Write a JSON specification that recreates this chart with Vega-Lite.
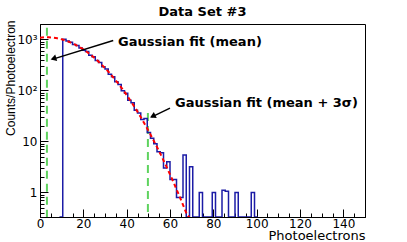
{
  "$schema": "https://vega.github.io/schema/vega-lite/v6.json",
  "width": 325,
  "height": 193,
  "autosize": {"type": "none"},
  "padding": {"left": 40, "top": 24, "right": 42, "bottom": 25},
  "background": "white",
  "title": {"text": "Data Set #3", "font": "DejaVu Sans", "fontWeight": "bold", "fontSize": 13, "offset": 1, "anchor": "middle", "color": "black"},
  "config": {
    "view": {"stroke": "black", "strokeWidth": 1},
    "axis": {"grid": false, "domainColor": "black", "tickColor": "black", "labelColor": "black", "titleColor": "black", "labelFont": "DejaVu Sans", "labelFontSize": 12, "titleFont": "DejaVu Sans", "titleFontWeight": "normal", "labelOverlap": false, "labelFlush": false}
  },
  "datasets": {
    "hist": [
      {"x": 9, "y": 0}, {"x": 10.5, "y": 1010}, {"x": 12, "y": 930}, {"x": 13.5, "y": 880}, {"x": 15, "y": 790},
      {"x": 16.5, "y": 760}, {"x": 18, "y": 680}, {"x": 19.5, "y": 610}, {"x": 21, "y": 575}, {"x": 22.5, "y": 490},
      {"x": 24, "y": 455}, {"x": 25.5, "y": 385}, {"x": 27, "y": 350}, {"x": 28.5, "y": 290}, {"x": 30, "y": 262},
      {"x": 31.5, "y": 208}, {"x": 33, "y": 186}, {"x": 34.5, "y": 148}, {"x": 36, "y": 130}, {"x": 37.5, "y": 98},
      {"x": 39, "y": 88}, {"x": 40.5, "y": 64}, {"x": 42, "y": 57}, {"x": 43.5, "y": 41}, {"x": 45, "y": 36},
      {"x": 46.5, "y": 27}, {"x": 48, "y": 28}, {"x": 49.5, "y": 15}, {"x": 51, "y": 11.5}, {"x": 52.5, "y": 9},
      {"x": 54, "y": 6.3}, {"x": 55.5, "y": 6}, {"x": 57, "y": 3}, {"x": 58.5, "y": 4}, {"x": 60, "y": 1.8},
      {"x": 61.5, "y": 1.8}, {"x": 63, "y": 0.8}, {"x": 64.5, "y": 0.8}, {"x": 66, "y": 5.4}, {"x": 67.5, "y": 0},
      {"x": 69, "y": 3.2}, {"x": 70.5, "y": 0}, {"x": 72, "y": 0}, {"x": 73.5, "y": 1}, {"x": 75, "y": 0},
      {"x": 76.5, "y": 0}, {"x": 78, "y": 0}, {"x": 79.5, "y": 1}, {"x": 81, "y": 0}, {"x": 82.5, "y": 0},
      {"x": 84, "y": 1.1}, {"x": 85.5, "y": 1.05}, {"x": 87, "y": 0}, {"x": 88.5, "y": 0}, {"x": 90, "y": 1},
      {"x": 91.5, "y": 0}, {"x": 93, "y": 0}, {"x": 94.5, "y": 0}, {"x": 96, "y": 0}, {"x": 97.5, "y": 1},
      {"x": 99, "y": 0}, {"x": 100.5, "y": 0}
    ],
    "fit": [
      {"x": 0, "y": 1081}, {"x": 2, "y": 1098}, {"x": 4, "y": 1098}, {"x": 6, "y": 1081}, {"x": 8, "y": 1049},
      {"x": 10, "y": 1002}, {"x": 12, "y": 943}, {"x": 14, "y": 874}, {"x": 16, "y": 797}, {"x": 18, "y": 717},
      {"x": 20, "y": 634}, {"x": 22, "y": 553}, {"x": 24, "y": 475}, {"x": 26, "y": 401}, {"x": 28, "y": 334},
      {"x": 30, "y": 274}, {"x": 32, "y": 222}, {"x": 34, "y": 176}, {"x": 36, "y": 138}, {"x": 38, "y": 107},
      {"x": 40, "y": 81}, {"x": 42, "y": 60.7}, {"x": 44, "y": 44.7}, {"x": 46, "y": 32.5}, {"x": 48, "y": 23.2},
      {"x": 50, "y": 16.4}, {"x": 52, "y": 11.3}, {"x": 54, "y": 7.75}, {"x": 56, "y": 5.22}, {"x": 58, "y": 3.46},
      {"x": 60, "y": 2.26}, {"x": 62, "y": 1.45}, {"x": 64, "y": 0.918}, {"x": 66, "y": 0.572}, {"x": 68, "y": 0.351},
      {"x": 69, "y": 0.274}
    ],
    "lines": [
      {"x": 3.2, "y": 1680, "y2": 0.33},
      {"x": 49.8, "y": 36, "y2": 0.33}
    ],
    "arrows": [
      {"x": 33.8, "y": 947, "x2": 5.6, "y2": 405},
      {"x": 60, "y": 44.8, "x2": 51.4, "y2": 30}
    ],
    "head1": [{"x": 6.2, "y": 420}],
    "head2": [{"x": 52.0, "y": 31}],
    "notes": [
      {"x": 36, "y": 890, "label": "Gaussian fit (mean)"},
      {"x": 62.3, "y": 57, "label": "Gaussian fit (mean + 3σ)"}
    ]
  },
  "resolve": {"axis": {"x": "independent", "y": "independent"}},
  "layer": [
    {
      "data": {"name": "lines"},
      "mark": {"type": "rule", "color": "#5fd35f", "strokeWidth": 2, "strokeDash": [8, 5]},
      "encoding": {
        "x": {"field": "x", "type": "quantitative", "scale": {"domain": [0, 150], "nice": false, "zero": false},
          "axis": {"orient": "bottom", "values": [5,10,15,25,30,35,45,50,55,65,70,75,85,90,95,105,110,115,125,130,135,145,150], "labels": false, "domain": false, "tickSize": -4, "title": null}},
        "y": {"field": "y", "type": "quantitative", "scale": {"type": "log", "domain": [0.33, 2000], "nice": false, "clamp": true},
          "axis": {"orient": "left", "values": [0.4,0.5,0.6,0.7,0.8,0.9,2,3,4,5,6,7,8,9,20,30,40,50,60,70,80,90,200,300,400,500,600,700,800,900,2000], "labels": false, "domain": false, "tickSize": -4, "title": null}},
        "y2": {"field": "y2"}
      }
    },
    {
      "data": {"name": "hist"},
      "mark": {"type": "line", "interpolate": "step-after", "color": "#1c1ca6", "strokeWidth": 1.5, "invalid": "show", "clip": true},
      "encoding": {
        "x": {"field": "x", "type": "quantitative",
          "axis": {"orient": "bottom", "values": [0,20,40,60,80,100,120,140], "tickSize": -8, "labelPadding": 9, "title": "Photoelectrons", "titleFontSize": 13, "titleAlign": "right", "titleX": 325, "titleY": 22, "titleBaseline": "alphabetic"}},
        "y": {"field": "y", "type": "quantitative",
          "axis": {"orient": "left", "values": [1,10,100,1000], "tickSize": -8, "labelPadding": 11,
            "labelExpr": "datum.value == 1000 ? '10³' : datum.value == 100 ? '10²' : datum.value == 10 ? '10' : datum.value == 1 ? '1' : ''",
            "title": "Counts/Photoelectron", "titleFont": "Liberation Sans", "titleFontSize": 12, "titleAngle": -90, "titleAlign": "right", "titleBaseline": "middle", "titleX": -30, "titleY": -4}}
      }
    },
    {
      "data": {"name": "fit"},
      "mark": {"type": "line", "color": "#ff0000", "strokeWidth": 2, "strokeDash": [4, 3], "clip": true},
      "encoding": {
        "x": {"field": "x", "type": "quantitative", "axis": null},
        "y": {"field": "y", "type": "quantitative", "axis": null}
      }
    },
    {
      "data": {"name": "arrows"},
      "mark": {"type": "rule", "color": "black", "strokeWidth": 1.5},
      "encoding": {
        "x": {"field": "x", "type": "quantitative", "axis": null},
        "y": {"field": "y", "type": "quantitative", "axis": null},
        "x2": {"field": "x2"},
        "y2": {"field": "y2"}
      }
    },
    {
      "data": {"name": "head1"},
      "mark": {"type": "point", "shape": "triangle-up", "angle": 253, "filled": true, "color": "black", "size": 45, "opacity": 1},
      "encoding": {
        "x": {"field": "x", "type": "quantitative", "axis": null},
        "y": {"field": "y", "type": "quantitative", "axis": null}
      }
    },
    {
      "data": {"name": "head2"},
      "mark": {"type": "point", "shape": "triangle-up", "angle": 244, "filled": true, "color": "black", "size": 45, "opacity": 1},
      "encoding": {
        "x": {"field": "x", "type": "quantitative", "axis": null},
        "y": {"field": "y", "type": "quantitative", "axis": null}
      }
    },
    {
      "data": {"name": "notes"},
      "mark": {"type": "text", "align": "left", "baseline": "middle", "font": "DejaVu Sans", "fontWeight": "bold", "fontSize": 13, "color": "black"},
      "encoding": {
        "x": {"field": "x", "type": "quantitative", "axis": null},
        "y": {"field": "y", "type": "quantitative", "axis": null},
        "text": {"field": "label"}
      }
    }
  ]
}
